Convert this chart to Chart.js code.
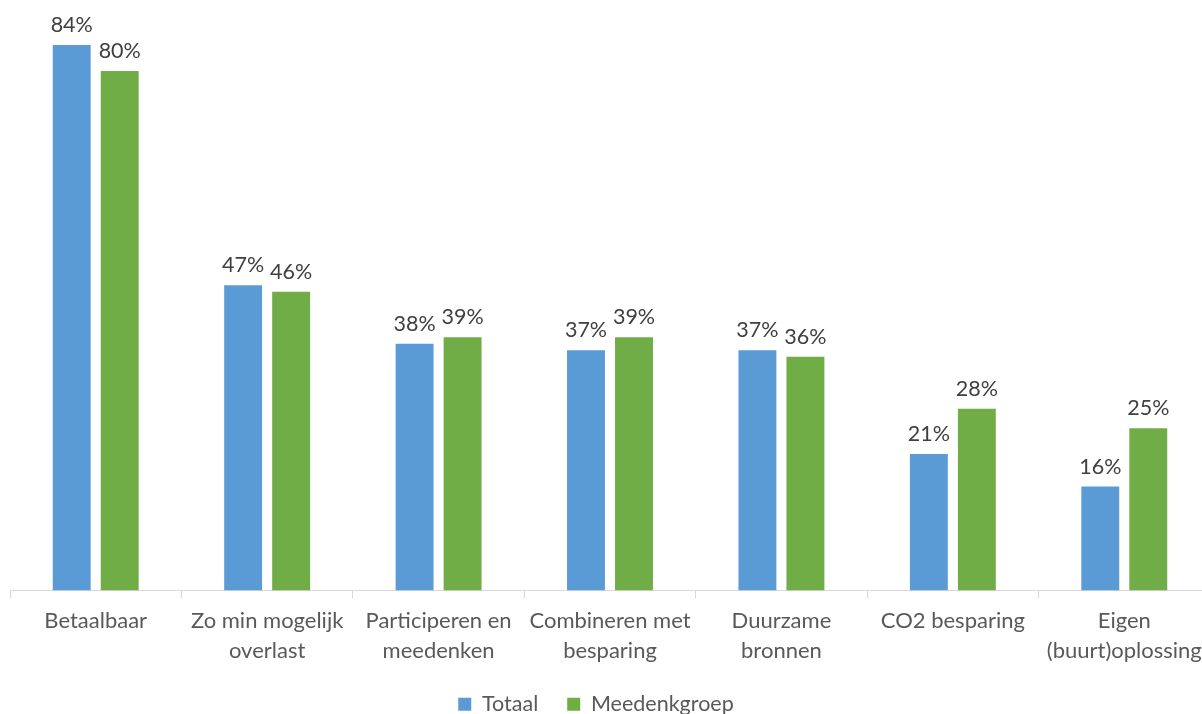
<!DOCTYPE html>
<html>
<head>
<meta charset="utf-8">
<script src="https://cdn.jsdelivr.net/npm/chart.js@4"></script>
<style>
html,body{margin:0;padding:0;overflow:hidden;background:#fff;width:1202px;height:714px;}
canvas{display:block;}
</style>
</head>
<body>
<canvas id="c" width="1214" height="725"></canvas>
<script>
const categories = [
  ['Betaalbaar'],
  ['Zo min mogelijk','overlast'],
  ['Participeren en','meedenken'],
  ['Combineren met','besparing'],
  ['Duurzame','bronnen'],
  ['CO2 besparing'],
  ['Eigen','(buurt)oplossing']
];
const totaal = [84, 47, 38, 37, 37, 21, 16];
const meedenkgroep = [80, 46, 39, 39, 36, 28, 25];

const FONT = 'Lato, "Liberation Sans", sans-serif';

const valueLabels = {
  id: 'valueLabels',
  afterDatasetsDraw(chart) {
    const ctx = chart.ctx;
    ctx.save();
    ctx.font = '21.5px ' + FONT;
    ctx.fillStyle = '#404040';
    ctx.textAlign = 'center';
    ctx.textBaseline = 'alphabetic';
    chart.data.datasets.forEach((ds, i) => {
      chart.getDatasetMeta(i).data.forEach((el, j) => {
        ctx.fillText(ds.data[j] + '%', el.x, el.y - 13);
      });
    });
    ctx.restore();
  }
};

const legendShift = {
  id: 'legendShift',
  afterLayout(chart) {
    if (chart.legend) {
      chart.legend.left -= 14;
      chart.legend.right -= 14;
    }
  }
};

new Chart(document.getElementById('c'), {
  type: 'bar',
  data: {
    labels: categories,
    datasets: [
      { label: 'Totaal', data: totaal, backgroundColor: '#5B9BD5', categoryPercentage: 0.56, barPercentage: 0.79 },
      { label: 'Meedenkgroep', data: meedenkgroep, backgroundColor: '#70AD47', categoryPercentage: 0.56, barPercentage: 0.79 }
    ]
  },
  options: {
    responsive: false,
    animation: false,
    devicePixelRatio: 1,
    layout: { padding: { left: 10, right: 4, top: 6, bottom: 0 } },
    scales: {
      y: { display: false, min: 0, max: 90 },
      x: {
        afterFit: (s) => { s.height = 74; },
        grid: { drawOnChartArea: false, drawTicks: true, tickLength: 8, color: '#d9d9d9', offset: true },
        border: { display: true, color: '#d9d9d9', width: 1 },
        ticks: { color: '#595959', font: { family: FONT, size: 22, lineHeight: 1.35 }, padding: 8, maxRotation: 0, autoSkip: false }
      }
    },
    plugins: {
      legend: {
        position: 'bottom',
        labels: { color: '#595959', font: { family: FONT, size: 21.5 }, boxWidth: 13, boxHeight: 13, padding: 29 }
      },
      tooltip: { enabled: false }
    }
  },
  plugins: [valueLabels, legendShift]
});
</script>
</body>
</html>
